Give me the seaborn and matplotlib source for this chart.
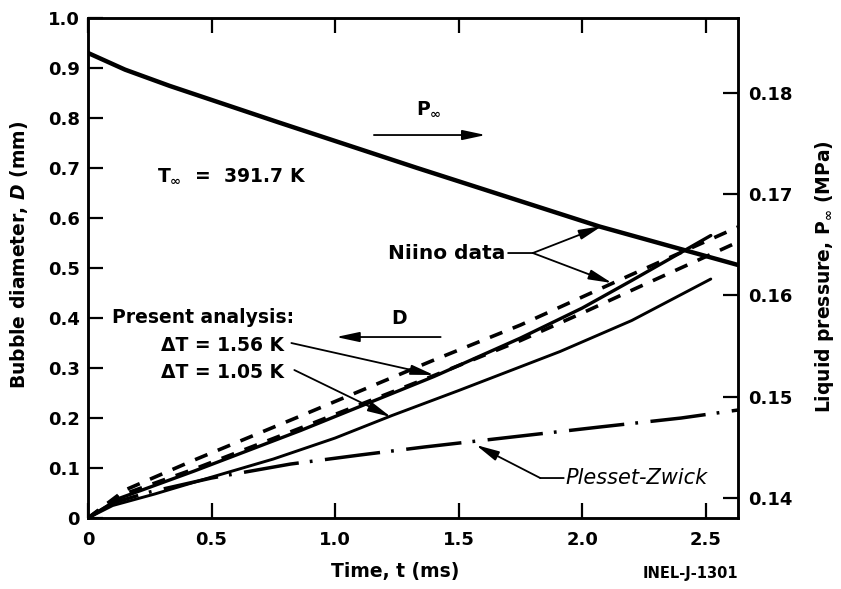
import numpy as np
import pandas as pd
import matplotlib
matplotlib.use("Agg")
import matplotlib.pyplot as plt
import seaborn as sns

# Niino data - bubble diameter (mm), two dashed curves
t_niino_up = [0, 0.15, 0.43, 0.85, 1.39, 1.75, 2.2, 2.63]
d_niino_up = [0, 0.056, 0.116, 0.202, 0.314, 0.386, 0.487, 0.582]
t_niino_lo = [0, 0.13, 0.43, 0.86, 1.4, 1.75, 2.0, 2.22, 2.63]
d_niino_lo = [0, 0.045, 0.098, 0.18, 0.285, 0.355, 0.41, 0.46, 0.552]

# present analysis, dT = 1.56 K and dT = 1.05 K
t_dt156 = [0, 0.13, 0.43, 0.86, 1.4, 1.75, 2.0, 2.2, 2.52]
d_dt156 = [0, 0.04, 0.094, 0.175, 0.283, 0.36, 0.42, 0.475, 0.565]
t_dt105 = [0, 0.1, 0.27, 0.46, 0.75, 1.0, 1.23, 1.5, 1.91, 2.2, 2.52]
d_dt105 = [0, 0.025, 0.048, 0.076, 0.118, 0.16, 0.205, 0.255, 0.333, 0.395, 0.478]

# Plesset-Zwick
t_pz = [0, 0.1, 0.25, 0.5, 0.82, 1.1, 1.36, 1.68, 2.07, 2.4, 2.63]
d_pz = [0, 0.03, 0.052, 0.08, 0.108, 0.126, 0.142, 0.16, 0.182, 0.2, 0.216]

# liquid pressure P_inf (MPa), right axis
t_p = [0, 0.15, 0.33, 0.77, 1.33, 2.07, 2.63]
p_inf = [0.18395, 0.1823, 0.1807, 0.1771, 0.1726, 0.1668, 0.1630]

x_ticks = [0, 0.5, 1.0, 1.5, 2.0, 2.5]
x_ticklabels = ["0", "0.5", "1.0", "1.5", "2.0", "2.5"]
y_ticks = [0, 0.1, 0.2, 0.3, 0.4, 0.5, 0.6, 0.7, 0.8, 0.9, 1.0]
y_ticklabels = ["0", "0.1", "0.2", "0.3", "0.4", "0.5", "0.6", "0.7", "0.8", "0.9", "1.0"]
p_ticks = [0.14, 0.15, 0.16, 0.17, 0.18]
p_ticklabels = ["0.14", "0.15", "0.16", "0.17", "0.18"]

sns.set_style("ticks", {"axes.edgecolor": "black", "text.color": "black",
                        "axes.labelcolor": "black", "xtick.color": "black",
                        "ytick.color": "black"})
plt.rcParams["font.family"] = ["DejaVu Sans"]
plt.rcParams["font.weight"] = "bold"
plt.rcParams["mathtext.fontset"] = "custom"
plt.rcParams["mathtext.rm"] = "DejaVu Sans:bold"
plt.rcParams["mathtext.it"] = "DejaVu Sans:italic:bold"
plt.rcParams["mathtext.bf"] = "DejaVu Sans:bold"

fig = plt.figure(figsize=(8.41, 5.89), dpi=100)
ax = fig.add_axes([0.1046, 0.1205, 0.7729, 0.8489])
ax2 = ax.twinx()

k = dict(color="black", errorbar=None, legend=False)
sns.lineplot(x=t_niino_up, y=d_niino_up, ax=ax, lw=2.6, linestyle=(0, (3.7, 3.1)), **k)
sns.lineplot(x=t_niino_lo, y=d_niino_lo, ax=ax, lw=2.6, linestyle=(0, (3.7, 3.1)), **k)
sns.lineplot(x=t_dt156, y=d_dt156, ax=ax, lw=2.4, **k)
sns.lineplot(x=t_dt105, y=d_dt105, ax=ax, lw=2.1, **k)
sns.lineplot(x=t_pz, y=d_pz, ax=ax, lw=2.5, linestyle=(0, (16, 3.2, 0.8, 3.6)), **k)
sns.lineplot(x=t_p, y=p_inf, ax=ax2, lw=3.2, **k)

ax.set_xlim(0, 2.63)
ax.set_ylim(0, 1.0)
ax2.set_ylim(0.138, 0.1874)

ax.set_xticks(x_ticks)
ax.set_xticklabels(x_ticklabels)
ax.set_yticks(y_ticks)
ax.set_yticklabels(y_ticklabels)
ax2.set_yticks(p_ticks)
ax2.set_yticklabels(p_ticklabels)

ax.tick_params(axis="both", direction="in", length=11, width=1.6, labelsize=13,
               colors="black")
ax.tick_params(axis="x", top=True, pad=9)
ax.tick_params(axis="y", right=False, pad=6)
ax2.tick_params(axis="y", direction="in", length=11, width=1.6, labelsize=13, pad=7,
                colors="black")
for a in (ax, ax2):
    for s in a.spines.values():
        s.set_linewidth(1.8)
        s.set_color("black")
        s.set_visible(True)

ax.set_xlabel("Time, t (ms)", fontsize=13.5, fontweight="bold")
ax.set_ylabel("Bubble diameter, $D$ (mm)", fontsize=13.5, fontweight="bold")
ax2.set_ylabel(r"Liquid pressure, P$_\infty$ (MPa)", fontsize=13.5, fontweight="bold")
ax.xaxis.set_label_coords(0.472, -0.088)
ax.yaxis.set_label_coords(-0.089, 0.526)
ax2.yaxis.set_label_coords(1.115, 0.482)

fs = 13.5
arr = dict(arrowstyle="-|>,head_length=1.4,head_width=0.3", color="black", lw=1.3,
           shrinkA=0, shrinkB=0)
line = dict(arrowstyle="-", color="black", lw=1.3, shrinkA=0, shrinkB=0)

ax.text(0.278, 0.684, r"T$_\infty$  =  391.7 K", fontsize=fs, ha="left", va="center")
ax.text(1.38, 0.818, r"P$_\infty$", fontsize=fs, ha="center", va="center")
ax.annotate("", xy=(1.609, 0.766), xytext=(1.157, 0.766), arrowprops=arr)
ax.text(1.258, 0.40, "D", fontsize=fs, ha="center", va="center")
ax.annotate("", xy=(1.004, 0.362), xytext=(1.427, 0.362), arrowprops=arr)

ax.text(1.69, 0.53, "Niino data", fontsize=14.5, ha="right", va="center")
ax.annotate("", xy=(1.80, 0.53), xytext=(1.70, 0.53), arrowprops=line)
ax.annotate("", xy=(2.08, 0.584), xytext=(1.80, 0.53), arrowprops=arr)
ax.annotate("", xy=(2.12, 0.47), xytext=(1.80, 0.53), arrowprops=arr)

ax.text(0.097, 0.402, "Present analysis:", fontsize=fs, ha="left", va="center")
ax.text(0.794, 0.346, "ΔT = 1.56 K", fontsize=fs, ha="right", va="center")
ax.text(0.794, 0.292, "ΔT = 1.05 K", fontsize=fs, ha="right", va="center")
ax.annotate("", xy=(1.40, 0.286), xytext=(0.823, 0.35), arrowprops=arr)
ax.annotate("", xy=(1.226, 0.202), xytext=(0.835, 0.296), arrowprops=arr)

ax.text(1.93, 0.08, "Plesset-Zwick", fontsize=15, ha="left", va="center",
        style="italic", fontweight="normal")
ax.annotate("", xy=(1.83, 0.08), xytext=(1.925, 0.08), arrowprops=line)
ax.annotate("", xy=(1.57, 0.146), xytext=(1.83, 0.08), arrowprops=arr)

fig.text(0.8775, 0.027, "INEL-J-1301", fontsize=10.5, ha="right", va="center")

fig.savefig("out.png", dpi=100)
